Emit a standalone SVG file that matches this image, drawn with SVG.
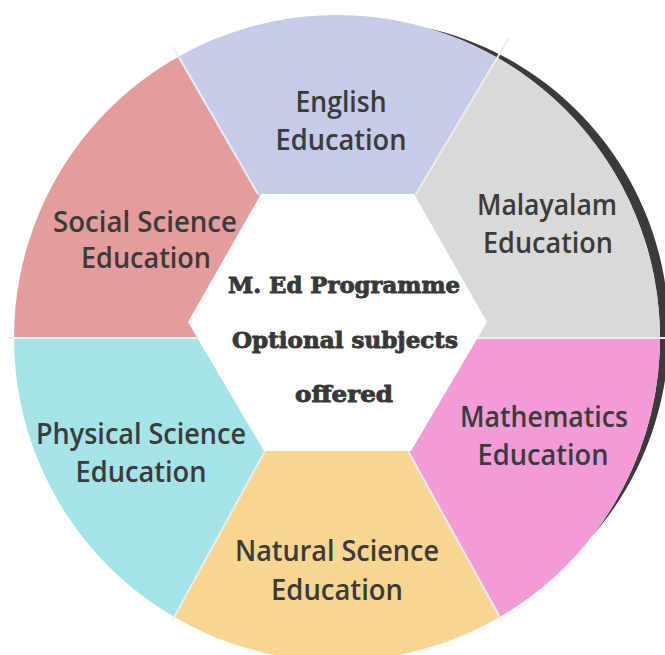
<svg xmlns="http://www.w3.org/2000/svg" width="665" height="655" viewBox="0 0 665 655">
  <style>
    .lbl { font-family: "Open Sans", "DejaVu Sans", sans-serif; font-size: 28px; font-weight: 600; fill: #3b3b3b; text-anchor: middle; }
    .ctr { font-family: "DejaVu Serif", "Liberation Serif", serif; font-weight: bold; font-size: 23px; fill: #383838; stroke: #383838; stroke-width: 0.9; text-anchor: middle; }
    .sep { stroke: #ededed; stroke-width: 2; fill: none; stroke-linecap: butt; }
  </style>
  <defs>
    <clipPath id="disc">
      <circle cx="337" cy="338" r="323"/>
    </clipPath>
  </defs>
  <rect width="665" height="655" fill="#ffffff"/>
  <!-- shadow crescent -->
  <path d="M 427.1 27.9 A 311.5 311.5 0 0 1 591.5 536.9 A 323 323 0 0 0 427.1 27.9 Z" fill="#3b3b3b"/>

  <g clip-path="url(#disc)">
    <g id="english">
      <polygon points="337,330 258,194 123,-40 556,-40 416,194" fill="#c5cbe8"/>
    </g>
    <g id="malayalam">
      <polygon points="337,330 416,194 556,-40 700,-40 700,338 470,338" fill="#d9d9d9"/>
    </g>
    <g id="mathematics">
      <polygon points="337,330 470,338 700,338 700,700 545,700 408,451" fill="#f29bd6"/>
    </g>
    <g id="natural">
      <polygon points="337,330 408,451 545,700 129,700 265,451" fill="#f9d592"/>
    </g>
    <g id="physical">
      <polygon points="337,330 265,451 129,700 -40,700 -40,338 205,338" fill="#a4e4e7"/>
    </g>
    <g id="social">
      <polygon points="337,330 205,338 -40,338 -40,-40 123,-40 258,194" fill="#e59c9d"/>
    </g>
  </g>

  <g id="connectors">
    <line class="sep" x1="258" y1="194" x2="173" y2="47"/>
    <line class="sep" x1="416" y1="194" x2="509" y2="38"/>
    <line class="sep" x1="8" y1="338" x2="197" y2="338"/>
    <line class="sep" x1="477" y1="338" x2="665" y2="338"/>
    <line class="sep" x1="265" y1="451" x2="172" y2="621"/>
    <line class="sep" x1="408" y1="451" x2="502" y2="621"/>
  </g>

  <g id="center">
    <polygon points="188,322 261,194 414,194 487,322 411,451 264,451" fill="#ffffff"/>
    <text class="ctr" x="344" y="293" textLength="232" lengthAdjust="spacingAndGlyphs">M. Ed Programme</text>
    <text class="ctr" x="345" y="348" textLength="226" lengthAdjust="spacingAndGlyphs">Optional subjects</text>
    <text class="ctr" x="344" y="402" textLength="98" lengthAdjust="spacingAndGlyphs">offered</text>
  </g>

  <g id="labels">
    <g id="english-label">
      <text class="lbl" x="341" y="112" textLength="91" lengthAdjust="spacingAndGlyphs">English</text>
      <text class="lbl" x="341" y="150" textLength="131" lengthAdjust="spacingAndGlyphs">Education</text>
    </g>
    <g id="social-label">
      <text class="lbl" x="145" y="232" textLength="184" lengthAdjust="spacingAndGlyphs">Social Science</text>
      <text class="lbl" x="146" y="268" textLength="130" lengthAdjust="spacingAndGlyphs">Education</text>
    </g>
    <g id="malayalam-label">
      <text class="lbl" x="547" y="215" textLength="140" lengthAdjust="spacingAndGlyphs">Malayalam</text>
      <text class="lbl" x="548" y="253" textLength="130" lengthAdjust="spacingAndGlyphs">Education</text>
    </g>
    <g id="physical-label">
      <text class="lbl" x="141" y="444" textLength="210" lengthAdjust="spacingAndGlyphs">Physical Science</text>
      <text class="lbl" x="141" y="482" textLength="131" lengthAdjust="spacingAndGlyphs">Education</text>
    </g>
    <g id="mathematics-label">
      <text class="lbl" x="544" y="427" textLength="168" lengthAdjust="spacingAndGlyphs">Mathematics</text>
      <text class="lbl" x="543" y="465" textLength="131" lengthAdjust="spacingAndGlyphs">Education</text>
    </g>
    <g id="natural-label">
      <text class="lbl" x="337" y="561" textLength="204" lengthAdjust="spacingAndGlyphs">Natural Science</text>
      <text class="lbl" x="337" y="600" textLength="132" lengthAdjust="spacingAndGlyphs">Education</text>
    </g>
  </g>
</svg>
